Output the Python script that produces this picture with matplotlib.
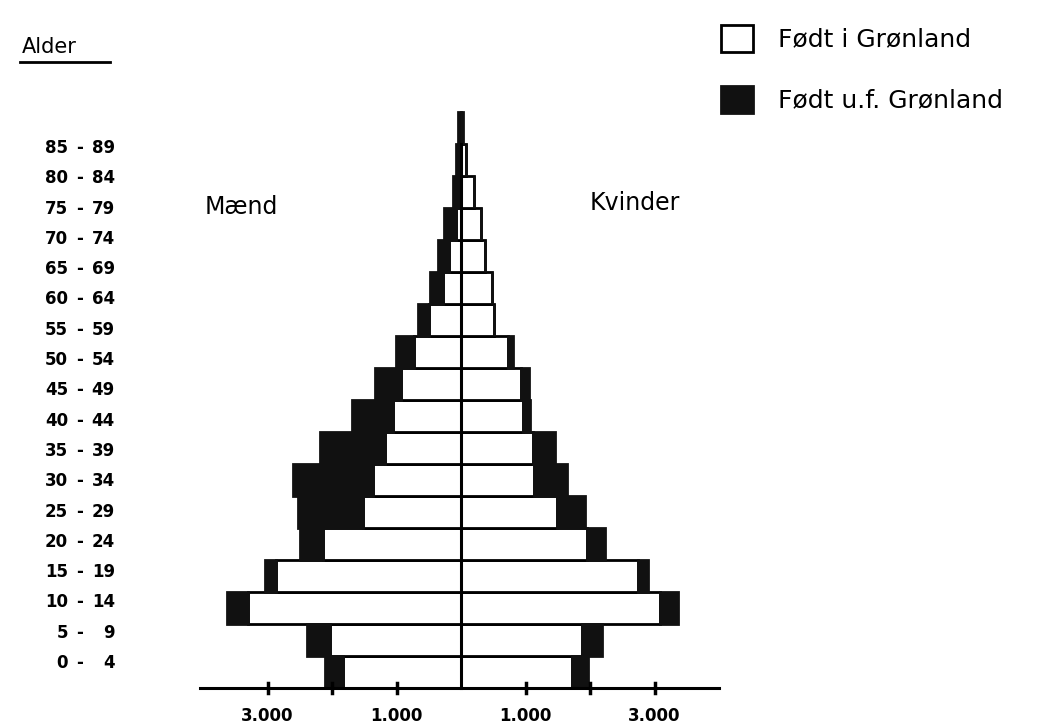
import matplotlib
matplotlib.use("Agg")
import matplotlib.pyplot as plt
from matplotlib.patches import Patch
import numpy as np

# Age groups, bottom to top
age_labels = ["0 - 4", "5 - 9", "10 - 14", "15 - 19", "20 - 24", "25 - 29",
              "30 - 34", "35 - 39", "40 - 44", "45 - 49", "50 - 54", "55 - 59",
              "60 - 64", "65 - 69", "70 - 74", "75 - 79", "80 - 84", "85 - 89"]

# Men (Mænd)
men_born_gl = [1824, 2031, 3297, 2868, 2134, 1514, 1359, 1178, 1049, 930,
               723, 490, 284, 180, 78, 0, 0, 0]
men_born_out = [284, 351, 336, 171, 362, 1008, 1240, 1008, 646, 398,
                284, 180, 190, 180, 180, 129, 70, 50]
# Women (Kvinder)
women_born_gl = [1716, 1871, 3085, 2749, 1948, 1483, 1137, 1121, 956, 930,
                 723, 517, 480, 377, 310, 207, 80, 0]
women_born_out = [258, 310, 284, 155, 284, 439, 501, 336, 114, 129,
                  88, 0, 0, 0, 0, 0, 0, 30]

tick_vals = [-3000, -2000, -1000, 1000, 2000, 3000]
tick_texts = ["3.000", "", "1.000", "1.000", "", "3.000"]

W, H = 1040, 728
fig = plt.figure(figsize=(10.4, 7.28), dpi=100)
fig.patch.set_facecolor("white")

# axes placement in pixels
px_left, px_right = 200, 720
px_bottom, px_top = 700, 100
center_px = 461
scale = 64.5 / 1000.0  # px per person
ax = fig.add_axes([px_left / W, 1 - px_bottom / H,
                   (px_right - px_left) / W, (px_bottom - px_top) / H])
ax.set_xlim((px_left - center_px) / scale, (px_right - center_px) / scale)
ax.set_ylim(-(px_bottom - 688) / 32.0, (688 - px_top) / 32.0)
ax.axis("off")

y = np.arange(len(age_labels)) + 0.5
men_gl = np.array(men_born_gl)
men_out = np.array(men_born_out)
wom_gl = np.array(women_born_gl)
wom_out = np.array(women_born_out)

dark = "#111111"
lw = 2.0
ax.barh(y, -men_gl, height=1.0, left=0, color="white", edgecolor="black", linewidth=lw, zorder=2)
ax.barh(y, -men_out, height=1.0, left=-men_gl, color=dark, edgecolor=dark, linewidth=lw, zorder=2)
ax.barh(y, wom_gl, height=1.0, left=0, color="white", edgecolor="black", linewidth=lw, zorder=2)
ax.barh(y, wom_out, height=1.0, left=wom_gl, color=dark, edgecolor=dark, linewidth=lw, zorder=2)

# center line
ax.plot([0, 0], [0, 17], color="black", linewidth=2.2, zorder=3)
# x axis line
xmin, xmax = ax.get_xlim()
ax.plot([xmin, xmax * 0.995], [0, 0], color="black", linewidth=2.2, zorder=3, clip_on=False)
for tv, tt in zip(tick_vals, tick_texts):
    ax.plot([tv, tv], [-0.15, 0.15], color="black", linewidth=2.5, zorder=3)
    if tt:
        ax.text(tv, -0.6, tt, ha="center", va="top", fontsize=12,
                fontweight="bold", family="DejaVu Sans")

# age labels on the left
label_y_px = np.linspace(663, 148, len(age_labels))
for lab, py in zip(age_labels, label_y_px):
    a, b = lab.split(" - ")
    fig.text(68 / W, 1 - py / H, a, ha="right", va="center", fontsize=12, fontweight="bold")
    fig.text(80 / W, 1 - py / H, "-", ha="center", va="center", fontsize=12, fontweight="bold")
    fig.text(115 / W, 1 - py / H, b, ha="right", va="center", fontsize=12, fontweight="bold")

fig.text(22 / W, 1 - 47 / H, "Alder", ha="left", va="center", fontsize=15)
fig.add_artist(plt.Line2D([20 / W, 110 / W], [1 - 62 / H, 1 - 62 / H],
                          color="black", linewidth=2))
fig.text(205 / W, 1 - 207 / H, "Mænd", ha="left", va="center", fontsize=17)
fig.text(590 / W, 1 - 203 / H, "Kvinder", ha="left", va="center", fontsize=17)

handles = [Patch(facecolor="white", edgecolor="black", linewidth=2),
           Patch(facecolor=dark, edgecolor=dark, linewidth=2)]
fig.legend(handles, ["Født i Grønland", "Født u.f. Grønland"],
           loc="upper left", bbox_to_anchor=(698 / W, 1 - 2 / H),
           frameon=False, fontsize=18, handlelength=1.3, handleheight=1.3,
           labelspacing=1.35, handletextpad=1.0)

fig.savefig("out.png", dpi=100, facecolor="white")
